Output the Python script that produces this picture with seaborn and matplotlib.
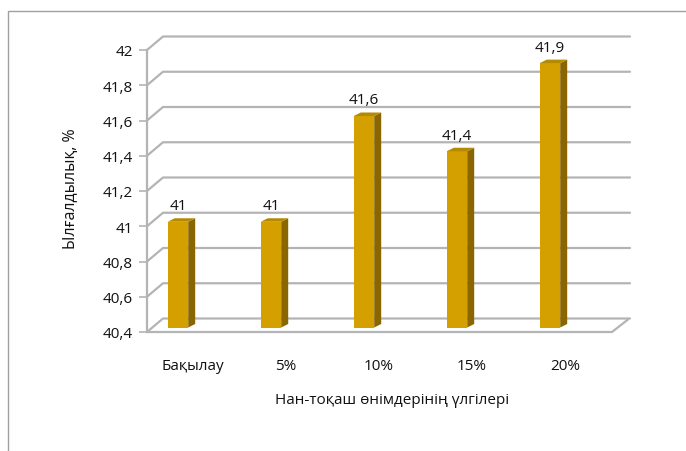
import numpy as np
import pandas as pd
import matplotlib
matplotlib.use("Agg")
import matplotlib.pyplot as plt
import matplotlib.transforms as mtransforms
from matplotlib.patches import Polygon, Rectangle
import seaborn as sns

# data
categories = ['Бақылау', '5%', '10%', '15%', '20%']
moisture = [41.0, 41.0, 41.6, 41.4, 41.9]
y_ticks = [40.4, 40.6, 40.8, 41.0, 41.2, 41.4, 41.6, 41.8, 42.0]

sns.set_theme(style='white')
plt.rcParams['font.family'] = ['Open Sans', 'DejaVu Sans']

FRONT = '#D4A000'
SIDE = '#8A6600'
TOP = '#B58A00'
GRID = '#B4B4B4'
TEXT = '#111111'

def fmt(v):
    s = f'{v:.1f}'.rstrip('0').rstrip('.')
    return s.replace('.', ',')

df = pd.DataFrame({'sample': categories, 'value': moisture})

fig = plt.figure(figsize=(6.86, 4.52), dpi=100)
W, H = 686, 452
ax = fig.add_axes([147 / W, 1 - 333 / H, (612 - 147) / W, (333 - 51) / H])

sns.barplot(data=df, x='sample', y='value', color=FRONT, width=0.22,
            saturation=1, ax=ax, zorder=3)

ybase = y_ticks[0]
ax.set_ylim(y_ticks[0], y_ticks[-1])
ax.set_xlim(-0.333, len(categories) - 0.333)

# bars start from the axis floor, lifted a little (middle of the 3d depth)
lift = mtransforms.ScaledTranslation(0, 4.5 / 100, fig.dpi_scale_trans)
bars = list(ax.patches)
for p in bars:
    h = p.get_height()
    p.set_y(ybase)
    p.set_height(h - ybase)
    p.set_edgecolor('none')
    p.set_transform(ax.transData + lift)
    p.set_clip_on(False)

fig.canvas.draw()
ident = mtransforms.IdentityTransform()

def to_px(x, y):
    return ax.transData.transform((x, y))

# walls: back gridlines and left wall diagonals
wall_dx, wall_dy = 16, 13.5
x_left = ax.get_xlim()[0]
x_right = ax.get_xlim()[1]
for t in y_ticks:
    fx, fy = to_px(x_left, t)
    rx, _ = to_px(x_right, t)
    ax.add_line(plt.Line2D([fx, fx + wall_dx, rx + wall_dx + 2],
                           [fy, fy + wall_dy, fy + wall_dy],
                           transform=ident, color=GRID, lw=1.6, zorder=1, clip_on=False))
# floor front edge and right edge
fx, fy = to_px(x_left, ybase)
rx, _ = to_px(x_right, ybase)
ax.add_line(plt.Line2D([fx, rx, rx + wall_dx], [fy, fy, fy + wall_dy - 1],
                       transform=ident, color=GRID, lw=1.6, zorder=1, clip_on=False))

# 3d side and top faces of the bars
bdx, bdy = 7, 3.5
for p in bars:
    x0 = p.get_x()
    x1 = x0 + p.get_width()
    top = p.get_y() + p.get_height()
    (ax0, ab), (ax1, at) = to_px(x0, ybase), to_px(x1, top)
    ab += 4.5
    at += 4.5
    side = Polygon([[ax1, ab], [ax1, at], [ax1 + bdx, at + bdy], [ax1 + bdx, ab + bdy]],
                   closed=True, transform=ident, facecolor=SIDE, edgecolor='none',
                   zorder=4, clip_on=False)
    topf = Polygon([[ax0, at], [ax1, at], [ax1 + bdx, at + bdy], [ax0 + bdx, at + bdy]],
                   closed=True, transform=ident, facecolor=TOP, edgecolor='none',
                   zorder=4, clip_on=False)
    ax.add_patch(side)
    ax.add_patch(topf)
    ax.text((x0 + x1) / 2, top, fmt(top), ha='center', va='bottom',
            fontsize=11, color=TEXT, zorder=5,
            transform=ax.transData + mtransforms.ScaledTranslation(0, 13 / 100, fig.dpi_scale_trans))

# axes styling
sns.despine(ax=ax, top=True, right=True, bottom=True, left=False)
ax.spines['left'].set_color(GRID)
ax.spines['left'].set_linewidth(1.6)
ax.set_yticks(y_ticks)
ax.set_yticklabels([fmt(t) for t in y_ticks], fontsize=11, color=TEXT)
ax.tick_params(axis='y', length=6, width=1.2, color=GRID, pad=4, left=True)
ax.tick_params(axis='x', length=0, pad=19)
ax.set_xticks(range(len(categories)))
ax.set_xticklabels(categories, fontsize=11, color=TEXT)
shift = mtransforms.ScaledTranslation(15 / 100, 0, fig.dpi_scale_trans)
for lbl in ax.get_xticklabels():
    lbl.set_transform(lbl.get_transform() + shift)
ax.set_facecolor('none')
ax.set_xlabel('Нан-тоқаш өнімдерінің үлгілері', fontsize=11, color=TEXT, va='center')
ax.set_ylabel('Ылғалдылық, %', fontsize=11.5, color=TEXT, va='center')
ax.xaxis.set_label_coords((392 - 147) / (612 - 147), -(401 - 333) / (333 - 51))
ax.yaxis.set_label_coords(-(147 - 71) / (612 - 147), (333 - 189) / (333 - 51))

# chart area border (only top and left are visible in the picture)
fig.patches.append(Rectangle((8 / W, -0.1), 1.2, 1 - 12 / H + 0.1, transform=fig.transFigure,
                             fill=False, edgecolor='#A0A0A0', lw=1.0))

fig.savefig('out.png', dpi=100)
